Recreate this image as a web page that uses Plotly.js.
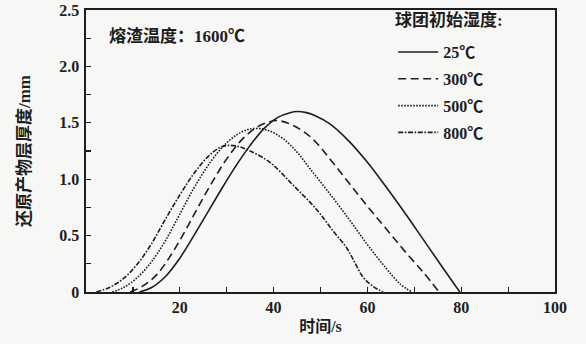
<!DOCTYPE html>
<html>
<head>
<meta charset="utf-8">
<script src="https://cdn.plot.ly/plotly-3.0.1.min.js"></script>
<style>
  html, body { margin: 0; padding: 0; background: #f7f7f5; }
  #chart { width: 586px; height: 344px; }
</style>
</head>
<body>
<div id="chart"></div>
<script>
// Reduction-product layer thickness vs. time for different initial pellet temperatures
const seriesNames = ['25℃', '300℃', '500℃', '800℃'];

const t25 = [11.4, 14, 17, 20, 23, 26, 29, 32, 35, 38, 41, 43.5, 45, 47, 49, 52, 56, 60, 64, 68, 72, 76, 79.7];
const y25 = [0, 0.04, 0.14, 0.30, 0.50, 0.71, 0.92, 1.12, 1.30, 1.45, 1.55, 1.59, 1.60, 1.59, 1.56, 1.49, 1.34, 1.15, 0.93, 0.70, 0.46, 0.22, 0];

const t300 = [9.4, 12, 15, 18, 21, 24, 27, 30, 33, 36, 38.5, 40.7, 44, 48, 52, 56, 60, 64, 68, 72, 75.3];
const y300 = [0, 0.05, 0.15, 0.32, 0.53, 0.76, 0.98, 1.18, 1.34, 1.45, 1.50, 1.52, 1.48, 1.37, 1.18, 0.97, 0.76, 0.56, 0.36, 0.17, 0];

const t500 = [5.6, 8, 11, 14, 17, 20, 23, 26, 29, 32, 34.5, 36.5, 39, 42, 45, 48, 52, 56, 60, 64, 67, 69.5];
const y500 = [0, 0.04, 0.13, 0.27, 0.46, 0.69, 0.92, 1.12, 1.28, 1.39, 1.44, 1.45, 1.43, 1.36, 1.24, 1.08, 0.87, 0.65, 0.42, 0.21, 0.07, 0];

const t800 = [2.2, 5, 8, 11, 14, 17, 20, 23, 26, 28.5, 30.5, 32.5, 35, 39.2, 44.1, 49.2, 52.7, 55.6, 57.2, 59.1, 61.2, 63.3];
const y800 = [0, 0.04, 0.12, 0.25, 0.43, 0.65, 0.86, 1.05, 1.20, 1.28, 1.30, 1.29, 1.25, 1.15, 0.95, 0.73, 0.54, 0.39, 0.27, 0.13, 0.05, 0];

const xTickVals = [10, 20, 30, 40, 50, 60, 70, 80, 90, 100];
const xTickText = ['', '20', '', '40', '', '60', '', '80', '', '100'];
const yTickVals = [0, 0.25, 0.5, 0.75, 1.0, 1.25, 1.5, 1.75, 2.0, 2.25, 2.5];
const yTickText = ['0', '', '0.5', '', '1.0', '', '1.5', '', '2.0', '', '2.5'];

const numFont = 'Liberation Serif, Noto Sans CJK SC, serif';
const ink = '#1e1e1e';
const bold = (size) => ({ family: numFont, size: size, color: ink, weight: 'bold' });

const dashes = ['solid', '8px,4.5px', '1.6px,1.4px', '5px,1.6px,1.6px,1.6px'];
const xs = [t25, t300, t500, t800];
const ys = [y25, y300, y500, y800];

const traces = seriesNames.map((name, i) => ({
  x: xs[i], y: ys[i], name: name, mode: 'lines', type: 'scatter',
  legendgroup: 'g' + i,
  line: { color: ink, width: 1.6, dash: dashes[i], shape: 'spline', smoothing: 1 },
  hoverinfo: 'skip'
}));

const layout = {
  width: 586, height: 344,
  margin: { l: 86, r: 31, t: 10, b: 52 },
  paper_bgcolor: '#f7f7f5',
  plot_bgcolor: '#f7f7f5',
  font: { family: numFont, color: ink, size: 16 },
  showlegend: true,
  legend: {
    x: 0.655, y: 0.911, xanchor: 'left', yanchor: 'top',
    bgcolor: 'rgba(0,0,0,0)',
    traceorder: 'grouped', tracegroupgap: 3,
    font: bold(16),
    itemwidth: 40
  },
  xaxis: {
    range: [0, 100],
    tickvals: xTickVals, ticktext: xTickText,
    ticks: 'inside', ticklen: 5, tickwidth: 1.2, tickcolor: ink,
    showline: true, linecolor: ink, linewidth: 1.6, mirror: true,
    showgrid: false, zeroline: false,
    ticklabeloverflow: 'allow',
    tickfont: bold(16),
    title: { text: '时间/s', standoff: 6, font: bold(16) }
  },
  yaxis: {
    range: [0, 2.5],
    tickvals: yTickVals, ticktext: yTickText,
    ticks: 'inside', ticklen: 5, tickwidth: 1.2, tickcolor: ink,
    showline: true, linecolor: ink, linewidth: 1.6, mirror: true,
    showgrid: false, zeroline: false,
    ticklabeloverflow: 'allow',
    ticklabelstandoff: 2,
    tickfont: bold(16),
    title: { text: '还原产物层厚度/mm', standoff: 24, font: bold(17) }
  },
  annotations: [
    {
      text: '熔渣温度：1600℃', xref: 'paper', yref: 'paper',
      x: 0.045, y: 0.908, xanchor: 'left', yanchor: 'middle', showarrow: false,
      font: bold(17)
    },
    {
      text: '球团初始湿度:', xref: 'paper', yref: 'paper',
      x: 0.654, y: 0.965, xanchor: 'left', yanchor: 'middle', showarrow: false,
      font: bold(17)
    }
  ]
};

Plotly.newPlot('chart', traces, layout, { displayModeBar: false, staticPlot: true });
</script>
</body>
</html>
